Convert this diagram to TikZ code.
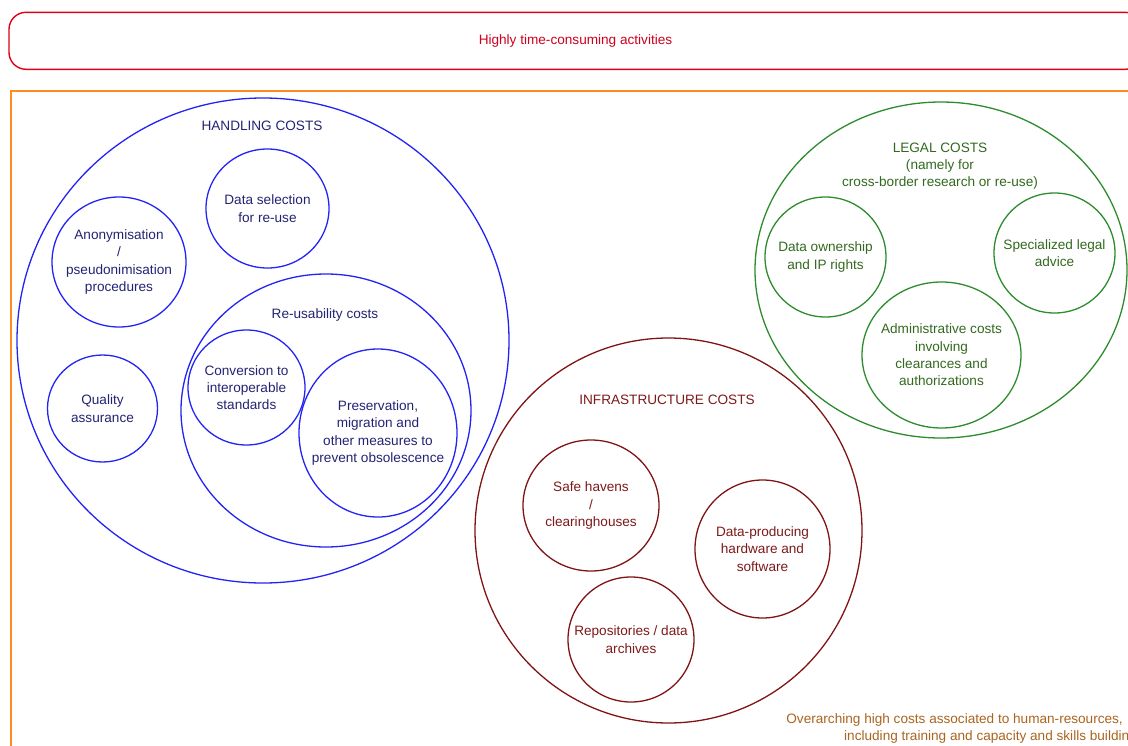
\documentclass[tikz,border=0pt]{standalone}
\usepackage{fontspec}
\setmainfont{Liberation Sans}
\usetikzlibrary{shapes.geometric}
\definecolor{cblue}{RGB}{35,35,245}
\definecolor{tblue}{RGB}{35,35,115}
\definecolor{cgreen}{RGB}{45,140,45}
\definecolor{tgreen}{RGB}{50,105,30}
\definecolor{cbrown}{RGB}{128,20,20}
\definecolor{tbrown}{RGB}{125,25,25}
\definecolor{cred}{RGB}{222,0,20}
\definecolor{tred}{RGB}{205,0,30}
\definecolor{corange}{RGB}{255,140,30}
\definecolor{torange}{RGB}{170,100,30}
\begin{document}
\begin{tikzpicture}[x=1pt,y=-1pt,
  circ/.style={ellipse, draw, line width=1.3pt, inner sep=0pt},
  bcirc/.style={circ, cblue},
  gcirc/.style={circ, cgreen},
  rcirc/.style={circ, cbrown},
  txt/.style={align=center, inner sep=0pt, font=\fontsize{13.6}{17.3}\selectfont},
  btxt/.style={txt, text=tblue},
  gtxt/.style={txt, text=tgreen},
  rtxt/.style={txt, text=tbrown}]
\useasboundingbox (0,0) rectangle (1128,745);
\clip (0,0) rectangle (1128,745);

% top band
\node[draw=cred, line width=1.4pt, rounded corners=17pt, minimum width=1133pt, minimum height=57pt, inner sep=0pt, text=tred, font=\fontsize{13.6}{17.3}\selectfont] (top) at (575.5,40.8) {Highly time-consuming activities};

% orange frame
\node[draw=corange, line width=2pt, minimum width=1140pt, minimum height=680pt, inner sep=0pt, anchor=north west] (frame) at (9.5,89.5) {};

% handling costs
\node[bcirc, minimum width=492pt, minimum height=485pt] (hand) at (263,340.5) {};
\node[btxt] (handl) at (262,126) {HANDLING COSTS};
\node[bcirc, minimum width=123pt, minimum height=119pt] (dsel) at (267.5,208.5) {};
\node[btxt] (dsell) at (dsel) {Data selection\\for re-use};
\node[bcirc, minimum width=134pt, minimum height=130pt] (anon) at (119,262) {};
\node[btxt] (anonl) at (anon) {Anonymisation\\/\\pseudonimisation\\procedures};
\node[bcirc, minimum width=110pt, minimum height=107pt] (qual) at (102.5,408.5) {};
\node[btxt] (quall) at (qual) {Quality\\assurance};
\node[bcirc, minimum width=290pt, minimum height=273pt] (reuse) at (326,410.5) {};
\node[btxt] (reusel) at (325,315) {Re-usability costs};
\node[bcirc, minimum width=117pt, minimum height=115pt] (conv) at (246.5,387.5) {};
\node[btxt] (convl) at (conv) {Conversion to\\interoperable\\standards};
\node[bcirc, minimum width=158pt, minimum height=168pt] (pres) at (378,433) {};
\node[btxt] (presl) at (pres) {Preservation,\\migration and\\other measures to\\prevent obsolescence};

% infrastructure costs
\node[rcirc, minimum width=387pt, minimum height=385pt] (infra) at (668.5,530.5) {};
\node[rtxt] (infral) at (667,400) {INFRASTRUCTURE COSTS};
\node[rcirc, minimum width=136pt, minimum height=131pt] (safe) at (591,505.5) {};
\node[rtxt] (safel) at (safe) {Safe havens\\/\\clearinghouses};
\node[rcirc, minimum width=135pt, minimum height=138pt] (dprod) at (762.5,549) {};
\node[rtxt] (dprodl) at (dprod) {Data-producing\\hardware and\\software};
\node[rcirc, minimum width=126pt, minimum height=125pt] (repo) at (631,639.5) {};
\node[rtxt] (repol) at (repo) {Repositories / data\\archives};

% legal costs
\node[gcirc, minimum width=372pt, minimum height=336pt] (legal) at (941,270) {};
\node[gtxt] (legall) at (940,166) {LEGAL COSTS\\(namely for\\cross-border research or re-use)};
\node[gcirc, minimum width=121pt, minimum height=120pt] (own) at (825.5,257) {};
\node[gtxt] (ownl) at (own) {Data ownership\\and IP rights};
\node[gcirc, minimum width=121pt, minimum height=120pt] (spec) at (1054.5,253) {};
\node[gtxt] (specl) at (spec) {Specialized legal\\advice};
\node[gcirc, minimum width=159pt, minimum height=146pt] (admin) at (941.5,355) {};
\node[gtxt] (adminl) at (admin) {Administrative costs\\involving\\clearances and\\authorizations};

% human resources
\node[txt, text=torange, align=right, anchor=east] (hr) at (1137,728.5) {Overarching high costs associated to human-resources,\hspace*{14pt}\\including training and capacity and skills building};
\end{tikzpicture}
\end{document}
